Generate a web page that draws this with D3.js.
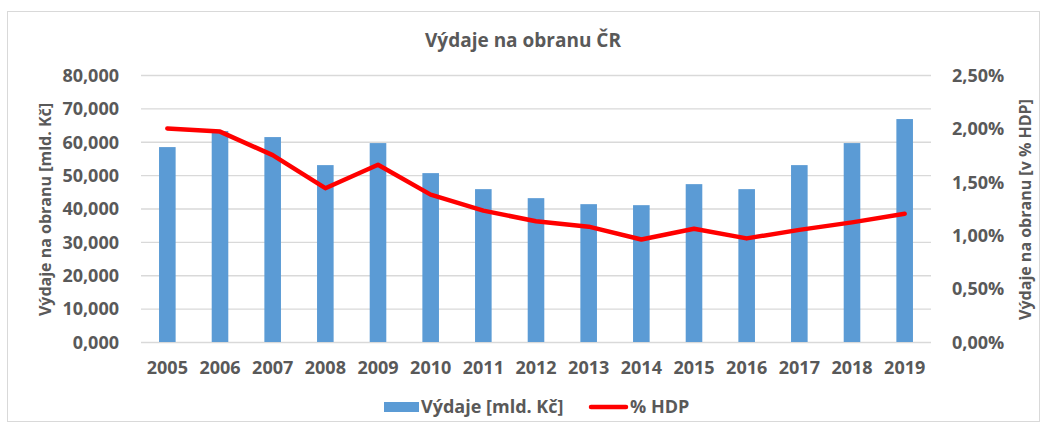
<!doctype html>
<html>
<head>
<meta charset="utf-8">
<title>Výdaje na obranu ČR</title>
<script src="https://d3js.org/d3.v7.min.js"></script>
<style>
  body { margin: 0; background: #fff; }
  text { font-family: "Open Sans", sans-serif; font-weight: bold; fill: #595959; }
</style>
</head>
<body>
<script>
var years = ["2005", "2006", "2007", "2008", "2009", "2010", "2011", "2012", "2013", "2014", "2015", "2016", "2017", "2018", "2019"];
var spending = [58400, 63200, 61400, 53000, 59600, 50600, 45800, 43100, 41300, 41000, 47300, 45800, 53000, 59600, 66800];
var gdpShare = [2.00, 1.97, 1.75, 1.44, 1.66, 1.38, 1.23, 1.13, 1.08, 0.96, 1.06, 0.97, 1.05, 1.12, 1.20];
var leftTicks = [0, 10000, 20000, 30000, 40000, 50000, 60000, 70000, 80000];
var rightTicks = [0, 0.5, 1.0, 1.5, 2.0, 2.5];

var width = 1046, height = 427;
var plot = { left: 141, right: 931, top: 75, bottom: 342 };

var svg = d3.select("body").append("svg")
    .attr("width", width)
    .attr("height", height);

svg.append("rect")
    .attr("x", 7.5).attr("y", 11.5)
    .attr("width", 1032).attr("height", 410)
    .attr("fill", "#fff")
    .attr("stroke", "#d9d9d9");

var x = d3.scaleBand().domain(years).range([plot.left, plot.right]).paddingInner(0.685).paddingOuter(0.3425);
var yLeft = d3.scaleLinear().domain([0, 80000]).range([plot.bottom, plot.top]);
var yRight = d3.scaleLinear().domain([0, 2.5]).range([plot.bottom, plot.top]);

// gridlines
svg.append("g")
    .attr("transform", "translate(" + plot.left + ",0)")
    .call(d3.axisLeft(yLeft).tickValues(leftTicks).tickSize(-(plot.right - plot.left)).tickFormat(""))
    .call(function (g) {
        g.select(".domain").remove();
        g.selectAll("line").attr("stroke", "#d9d9d9").attr("stroke-width", 1.3);
    });

// bars
svg.selectAll("rect.bar")
    .data(spending)
    .enter()
    .append("rect")
    .attr("class", "bar")
    .attr("x", function (d, i) { return x(years[i]); })
    .attr("width", x.bandwidth())
    .attr("y", function (d) { return yLeft(d); })
    .attr("height", function (d) { return plot.bottom - yLeft(d); })
    .attr("fill", "#5b9bd5");

// line
var line = d3.line()
    .x(function (d, i) { return x(years[i]) + x.bandwidth() / 2; })
    .y(function (d) { return yRight(d); });

svg.append("path")
    .datum(gdpShare)
    .attr("d", line)
    .attr("fill", "none")
    .attr("stroke", "#ff0000")
    .attr("stroke-width", 4.5)
    .attr("stroke-linejoin", "round")
    .attr("stroke-linecap", "round");

// axes
var fmtLeft = function (d) { return d3.format(".3f")(d / 1000).replace(".", ","); };
svg.append("g")
    .attr("transform", "translate(" + (plot.left - 22) + ",0)")
    .call(d3.axisLeft(yLeft).tickValues(leftTicks).tickSize(0).tickPadding(0).tickFormat(fmtLeft))
    .call(function (g) {
        g.select(".domain").remove();
        g.selectAll("text").style("font-size", "18px").attr("dy", "0.35em");
    });

svg.append("g")
    .attr("transform", "translate(" + (plot.right + 21) + ",0)")
    .call(d3.axisRight(yRight).tickValues(rightTicks).tickSize(0).tickPadding(0)
        .tickFormat(function (d) { return d3.format(".2f")(d).replace(".", ",") + "%"; }))
    .call(function (g) {
        g.select(".domain").remove();
        g.selectAll("text").style("font-size", "18px").attr("dy", "0.35em");
    });

svg.append("g")
    .attr("transform", "translate(0," + (plot.bottom + 15) + ")")
    .call(d3.axisBottom(x).tickSize(0).tickPadding(0))
    .call(function (g) {
        g.select(".domain").remove();
        g.selectAll("text").style("font-size", "18px").attr("dy", "0.95em");
    });

// title
svg.append("text")
    .attr("x", 523).attr("y", 47)
    .attr("text-anchor", "middle")
    .style("font-size", "19px")
    .text("Výdaje na obranu ČR");

// axis titles
svg.append("text")
    .attr("transform", "translate(51," + ((plot.top + plot.bottom) / 2 + 1) + ") rotate(-90)")
    .attr("text-anchor", "middle")
    .style("font-size", "16px")
    .text("Výdaje na obranu [mld. Kč]");

svg.append("text")
    .attr("transform", "translate(1031," + ((plot.top + plot.bottom) / 2 + 1) + ") rotate(-90)")
    .attr("text-anchor", "middle")
    .style("font-size", "16px")
    .text("Výdaje na obranu [v % HDP]");

// legend
var legend = svg.append("g").attr("transform", "translate(0,407)");
legend.append("rect").attr("x", 384).attr("y", -5).attr("width", 35).attr("height", 10).attr("fill", "#5b9bd5");
legend.append("text").attr("x", 421).attr("y", 0).attr("dy", "0.35em").style("font-size", "18px").text("Výdaje [mld. Kč]");
legend.append("line").attr("x1", 591).attr("x2", 626).attr("y1", 0).attr("y2", 0)
    .attr("stroke", "#ff0000").attr("stroke-width", 4.5).attr("stroke-linecap", "round");
legend.append("text").attr("x", 630).attr("y", 0).attr("dy", "0.35em").style("font-size", "18px").text("% HDP");
</script>
</body>
</html>
